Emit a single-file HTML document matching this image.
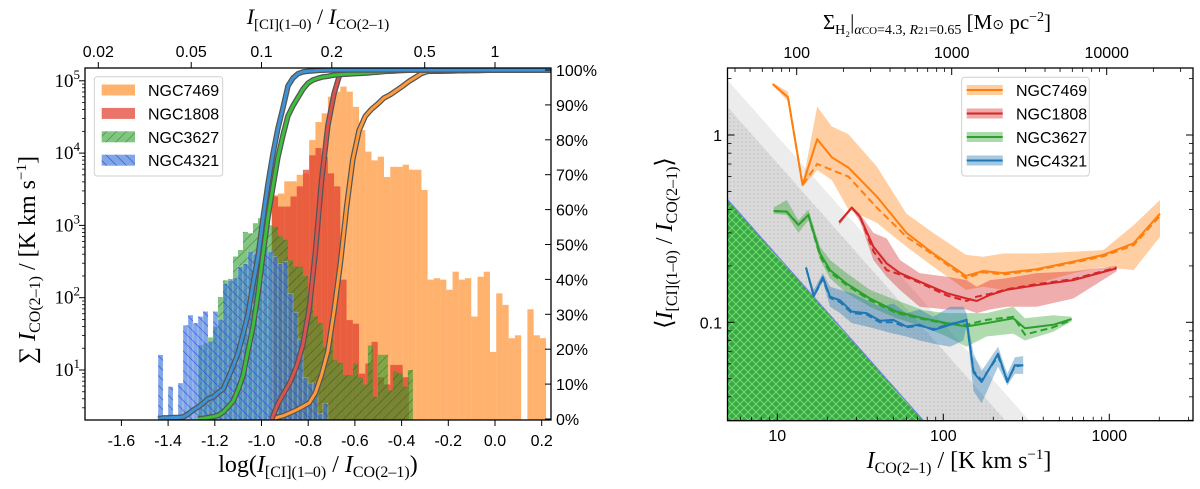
<!DOCTYPE html>
<html><head><meta charset="utf-8"><style>
html,body{margin:0;padding:0;background:#fff;}
svg{display:block;}
</style></head><body>
<svg id="fig" width="1200" height="489" viewBox="0 0 1200 489" xmlns="http://www.w3.org/2000/svg">
<defs>
<pattern id="hatchG" width="7" height="7" patternUnits="userSpaceOnUse" patternTransform="rotate(45)"><line x1="0" y1="0" x2="0" y2="7" stroke="#1e3d10" stroke-opacity="0.55" stroke-width="1.2"/></pattern>
<pattern id="hatchB" width="7" height="7" patternUnits="userSpaceOnUse" patternTransform="rotate(-45)"><line x1="0" y1="0" x2="0" y2="7" stroke="#2a2ff0" stroke-opacity="0.8" stroke-width="1.3"/></pattern>
<pattern id="crossG" width="8" height="8" patternUnits="userSpaceOnUse"><rect width="8" height="8" fill="#3aa845"/><path d="M0,0 L8,8 M8,0 L0,8" stroke="#6fdc6f" stroke-width="1"/></pattern>
<pattern id="dotsGray" width="4" height="4" patternUnits="userSpaceOnUse"><rect width="4" height="4" fill="#dadada"/><circle cx="2" cy="2" r="0.7" fill="#bcbcbc"/></pattern>
<clipPath id="clipL"><rect x="85" y="68" width="466" height="352"/></clipPath>
<clipPath id="clipR"><rect x="727.5" y="68" width="465.5" height="352.7"/></clipPath>
</defs>
<g id="leftPlot"></g>
<g id="rightPlot"></g>

<text x="318" y="472" text-anchor="middle" font-family="Liberation Serif, serif" font-size="24">log(<tspan font-style="italic">I</tspan><tspan dy="5" font-size="16">[CI](1–0)</tspan><tspan dy="-5"> / </tspan><tspan font-style="italic">I</tspan><tspan dy="5" font-size="16">CO(2–1)</tspan><tspan dy="-5">)</tspan></text>
<text x="318" y="24" text-anchor="middle" font-family="Liberation Serif, serif" font-size="22"><tspan font-style="italic">I</tspan><tspan dy="5" font-size="15">[CI](1–0)</tspan><tspan dy="-5"> / </tspan><tspan font-style="italic">I</tspan><tspan dy="5" font-size="15">CO(2–1)</tspan></text>
<text transform="translate(35,260) rotate(-90)" text-anchor="middle" font-family="Liberation Serif, serif" font-size="24">∑ <tspan font-style="italic">I</tspan><tspan dy="5" font-size="16">CO(2–1)</tspan><tspan dy="-5"> / [K km s</tspan><tspan dy="-9" font-size="15">−1</tspan><tspan dy="9">]</tspan></text>
<text x="959" y="468" text-anchor="middle" font-family="Liberation Serif, serif" font-size="24"><tspan font-style="italic">I</tspan><tspan dy="5" font-size="16">CO(2–1)</tspan><tspan dy="-5"> / [K km s</tspan><tspan dy="-9" font-size="15">−1</tspan><tspan dy="9">]</tspan></text>
<text x="937" y="29" text-anchor="middle" font-family="Liberation Serif, serif" font-size="21">Σ<tspan dy="5" font-size="14">H₂</tspan><tspan dy="-5">|</tspan><tspan dy="5" font-size="14" font-style="italic">α</tspan><tspan font-size="11">CO</tspan><tspan font-size="14">=4.3, </tspan><tspan font-size="14" font-style="italic">R</tspan><tspan font-size="11">21</tspan><tspan font-size="14">=0.65</tspan><tspan dy="-5">  [M</tspan><tspan font-size="14">⊙</tspan><tspan> pc</tspan><tspan dy="-8" font-size="14">−2</tspan><tspan dy="8">]</tspan></text>
<text transform="translate(672,243) rotate(-90)" text-anchor="middle" font-family="Liberation Serif, serif" font-size="24">⟨<tspan font-style="italic">I</tspan><tspan dy="5" font-size="16">[CI](1–0)</tspan><tspan dy="-5"> / </tspan><tspan font-style="italic">I</tspan><tspan dy="5" font-size="16">CO(2–1)</tspan><tspan dy="-5">⟩</tspan></text>
</svg>
<script>
// ---------------- LEFT PANEL DATA ----------------
const histNames = ['NGC7469','NGC1808','NGC3627','NGC4321'];
const histStarts = [-0.956, -0.956, -1.272, -1.443];
const histWidths = [0.0267, 0.0267, 0.0214, 0.0214];
const logCounts7469 = [3.42,3.44,3.61,3.61,3.70,3.72,4.18,4.43,4.55,4.78,4.85,4.92,4.85,4.64,4.32,4.02,3.90,3.95,3.67,3.81,3.81,3.84,3.77,3.77,3.49,2.25,2.27,2.25,2.11,2.36,2.25,2.27,1.74,2.29,2.36,1.25,2.06,1.90,1.44,1.48,0,1.84,1.48,1.44];
const logCounts1808 = [3.40,3.26,3.26,3.40,3.54,3.77,3.97,4.07,3.95,3.72,3.54,2.25,1.69,1.64,0.95,1.09,1.39,0.9,0.8,1.07,1.07,0.9];
const logCounts3627 = [1.34,1.37,1.45,1.60,2.01,2.24,2.26,2.57,2.66,2.91,2.89,3.03,3.10,3.08,3.00,2.98,2.85,2.80,2.52,2.43,2.43,2.30,2.01,1.74,1.65,1.32,1.55,1.14,1.10,0.93,0.93,1.09,0.90,0.80,1.34,0.63,1.21,1.21,0.72,0.98,0.95,0.77,1.0];
const logCounts4321 = [1.21,0,0.77,0,0.82,1.62,1.76,1.65,1.74,1.81,1.40,1.81,1.70,2.20,2.24,2.28,2.43,2.47,2.64,2.60,2.75,2.70,2.64,2.57,2.47,2.50,2.06,1.80,1.42,0.9,0.82,0.82,0.4,0.54];
const xTicksLeft = [-1.6,-1.4,-1.2,-1.0,-0.8,-0.6,-0.4,-0.2,0.0,0.2];
const xTickLabelsLeft = ['-1.6','-1.4','-1.2','-1.0','-0.8','-0.6','-0.4','-0.2','0.0','0.2'];
const topTicksLeft = [0.02,0.05,0.1,0.2,0.5,1];
const topTickLabelsLeft = ['0.02','0.05','0.1','0.2','0.5','1'];
const yDecadesLeft = [1,2,3,4,5];
const pctTicks = [0,10,20,30,40,50,60,70,80,90,100];

// ---------------- RIGHT PANEL DATA ----------------
const I7469 = [9.4,11.6,14.2,17.4,21.3,26.8,39.7,60,87,137,174,230,365,607,920,1400,2020];
const mean7469 = [1.87,1.59,0.54,0.95,0.76,0.67,0.47,0.30,0.233,0.177,0.188,0.183,0.192,0.211,0.229,0.264,0.38];
const med7469 = [1.87,1.59,0.54,0.70,0.65,0.60,0.41,0.286,0.229,0.172,0.185,0.180,0.190,0.208,0.225,0.258,0.37];
const hi7469 = [1.90,1.70,0.55,1.42,1.11,1.01,0.68,0.38,0.30,0.229,0.224,0.233,0.233,0.238,0.243,0.33,0.45];
const lo7469 = [1.84,1.51,0.53,0.65,0.575,0.40,0.34,0.253,0.198,0.149,0.155,0.149,0.161,0.183,0.198,0.190,0.286];

const I1808 = [23.6,28.1,31.5,37.9,45.6,54.8,72,105,138,159,191,240,365,607,1107];
const mean1808 = [0.342,0.41,0.366,0.253,0.206,0.183,0.165,0.143,0.134,0.130,0.140,0.149,0.158,0.168,0.194];
const med1808 = [0.342,0.41,0.366,0.240,0.190,0.180,0.163,0.139,0.130,0.137,0.142,0.150,0.160,0.170,0.196];
const hi1808 = [0.35,0.415,0.38,0.30,0.28,0.215,0.183,0.175,0.168,0.155,0.168,0.172,0.183,0.187,0.20];
const lo1808 = [0.33,0.40,0.345,0.215,0.175,0.149,0.121,0.117,0.117,0.112,0.117,0.121,0.121,0.134,0.187];

const I3627 = [9.5,11.4,13.4,15.4,18.1,20.8,26.2,36.2,52.3,75.8,105,138,182,264,310,460,593];
const mean3627 = [0.393,0.39,0.331,0.374,0.233,0.190,0.161,0.134,0.114,0.105,0.099,0.095,0.099,0.105,0.093,0.097,0.104];
const med3627 = [0.393,0.39,0.331,0.374,0.225,0.185,0.158,0.131,0.112,0.104,0.098,0.097,0.103,0.107,0.086,0.094,0.103];
const hi3627 = [0.41,0.45,0.35,0.40,0.253,0.215,0.183,0.149,0.131,0.116,0.112,0.112,0.112,0.121,0.105,0.109,0.107];
const lo3627 = [0.38,0.374,0.30,0.35,0.215,0.172,0.143,0.121,0.105,0.095,0.084,0.074,0.084,0.087,0.080,0.089,0.101];

const I4321 = [14.9,16.6,18.8,20.8,23.9,28.1,34.5,41.5,50,60,72,87,110,132,138,152,170,214,243,270,303];
const mean4321 = [0.196,0.138,0.174,0.137,0.131,0.114,0.112,0.102,0.103,0.095,0.097,0.091,0.097,0.102,0.103,0.054,0.048,0.068,0.048,0.059,0.059];
const med4321 = [0.196,0.138,0.170,0.135,0.128,0.112,0.110,0.100,0.100,0.094,0.096,0.092,0.098,0.101,0.103,0.055,0.049,0.066,0.049,0.058,0.059];
const hi4321 = [0.203,0.149,0.183,0.155,0.149,0.143,0.131,0.121,0.126,0.112,0.117,0.107,0.121,0.121,0.112,0.068,0.055,0.074,0.053,0.065,0.066];
const lo4321 = [0.190,0.134,0.165,0.121,0.112,0.099,0.095,0.091,0.087,0.084,0.080,0.077,0.074,0.080,0.095,0.043,0.037,0.058,0.046,0.053,0.053];

const limitCoeffs = [9.84, 7.08, 2.27]; // ratio = C / I_CO boundaries (light band, dotted band, hatched region)
const xTicksRight = [10,100,1000];
const xTickLabelsRight = ['10','100','1000'];
const topTicksRight = [100,1000,10000];
const topTickLabelsRight = ['100','1000','10000'];
const yTicksRight = [0.1,1];
const yTickLabelsRight = ['0.1','1'];

// ---------------- helpers ----------------
const NS = 'http://www.w3.org/2000/svg';
function mk(parent, tag, attrs){
  const e = document.createElementNS(NS, tag);
  for (const k in attrs) e.setAttribute(k, attrs[k]);
  parent.appendChild(e);
  return e;
}
const FONT = 'Liberation Sans, sans-serif';

// scales
const xL = v => 495 + v*233.5;
const yL = lc => 370 - (lc-1)*72.3;
const yP = p => 419 - p*3.49;
const LBOT = 420, LTOP = 68, LLEFT = 85, LRIGHT = 551;
const xR = I => 943.3 + (Math.log10(I)-2)*166;
const yR = r => 322.3 - (Math.log10(r)+1)*187.3;
const xT = S => 796.7 + (Math.log10(S)-2)*155;
const RBOT = 420.7, RTOP = 68, RLEFT = 727.5, RRIGHT = 1193;

// ================= LEFT PANEL =================
const L = document.getElementById('leftPlot');
const Lc = mk(L,'g',{'clip-path':'url(#clipL)'});



const histData = [logCounts7469, logCounts1808, logCounts3627, logCounts4321];
const histFill = ['#ff7f0e','#e03a2a','#2ca02c','#3b78d8'];
const histOpacity = [0.6, 0.7, 0.6, 0.65];
const histHatch = [null, null, 'url(#hatchG)', 'url(#hatchB)'];
const histKeys = ['ngc7469','ngc1808','ngc3627','ngc4321'];

histData.forEach((arr, g) => {
  const grp = mk(Lc,'g',{});
  
  
  arr.forEach((v, i) => {
    if (v <= 0) return;
    const x0 = xL(histStarts[g] + i*histWidths[g]);
    const x1 = xL(histStarts[g] + (i+1)*histWidths[g]);
    const y = yL(v);
    const r = mk(grp,'rect',{x:x0, y:y, width:x1-x0, height:LBOT-y, fill:histFill[g], 'fill-opacity':histOpacity[g], stroke: g===3?'#ffffff':'none', 'stroke-width':0.4, 'stroke-opacity':0.6});
    
    
    if (histHatch[g]) {
      const h = mk(grp,'rect',{x:x0, y:y, width:x1-x0, height:LBOT-y, fill:histHatch[g]});
      
      
    }
  });
});

// cumulative curves
const cumColor = ['#ff9a3c','#d9534f','#3cc03c','#3d93d6'];
[0,1,2,3].forEach(g => {
  const arr = histData[g];
  const lin = arr.map(v => v>0 ? Math.pow(10,v) : 0);
  const tot = lin.reduce((a,b)=>a+b,0);
  let cum = 0;
  const pts = [[xL(histStarts[g]), yP(0)]];
  lin.forEach((c,i) => {
    cum += c;
    pts.push([xL(histStarts[g]+(i+1)*histWidths[g]), yP(100*cum/tot)]);
  });
  pts.push([LRIGHT+2, yP(100)]);
  const d = pts.map(p=>p[0].toFixed(1)+','+p[1].toFixed(1)).join(' ');
  const o = mk(Lc,'polyline',{points:d, fill:'none', stroke:'#555', 'stroke-width':5.5, 'stroke-linejoin':'round'});
  
  
  const c = mk(Lc,'polyline',{points:d, fill:'none', stroke:cumColor[g], 'stroke-width':3, 'stroke-linejoin':'round'});
  
  
});

// left frame
const lf = mk(L,'rect',{x:LLEFT, y:LTOP, width:LRIGHT-LLEFT, height:LBOT-LTOP, fill:'none', stroke:'#000', 'stroke-width':1.3});



// bottom ticks
xTicksLeft.forEach((v,i) => {
  const x = xL(v);
  const t = mk(L,'line',{x1:x, x2:x, y1:LBOT, y2:LBOT+6, stroke:'#000', 'stroke-width':1});
  
  
  const tx = mk(L,'text',{x:x, y:446, 'text-anchor':'middle', 'font-family':FONT, 'font-size':16});
  tx.textContent = xTickLabelsLeft[i];
  
  
});
// top ticks
topTicksLeft.forEach((v,i) => {
  const x = xL(Math.log10(v));
  const t = mk(L,'line',{x1:x, x2:x, y1:LTOP, y2:LTOP-6, stroke:'#000', 'stroke-width':1});
  
  
  const tx = mk(L,'text',{x:x, y:57, 'text-anchor':'middle', 'font-family':FONT, 'font-size':16});
  tx.textContent = topTickLabelsLeft[i];
  
  
});
// left y ticks (log)
for (let k=0;k<=5;k++){
  for (let m=1;m<=9;m++){
    const lc = k + Math.log10(m);
    const y = yL(lc);
    if (y < LTOP || y > LBOT) continue;
    const t = mk(L,'line',{x1:LLEFT, x2:LLEFT-(m===1?6:3), y1:y, y2:y, stroke:'#000', 'stroke-width':m===1?1:0.8});
    
    
  }
}
yDecadesLeft.forEach(k => {
  const tx = mk(L,'text',{x:80, y:yL(k)+6, 'text-anchor':'end', 'font-family':'Liberation Serif, serif', 'font-size':19});
  
  
  tx.appendChild(document.createTextNode('10'));
  const s = mk(tx,'tspan',{dy:-8, 'font-size':13});
  s.textContent = String(k);
});
// right percent axis
pctTicks.forEach(p => {
  const y = yP(p);
  const t = mk(L,'line',{x1:LRIGHT, x2:LRIGHT-6, y1:y, y2:y, stroke:'#000', 'stroke-width':1});
  
  
  const tx = mk(L,'text',{x:556, y:y+6, 'font-family':FONT, 'font-size':16});
  tx.textContent = p+'%';
  
  
});
// left legend
const lg = mk(L,'g',{});


const lgb = mk(lg,'rect',{x:94.3, y:76.7, width:128.4, height:99.3, rx:3, fill:'#fff', 'fill-opacity':0.85, stroke:'#d0d0d0', 'stroke-width':1});


histNames.forEach((n,g) => {
  const cy = 90 + g*23.4;
  const p = mk(lg,'rect',{x:101.7, y:cy-5.5, width:33.3, height:11, fill:histFill[g], 'fill-opacity':histOpacity[g]});
  
  
  if (histHatch[g]) {
    const h = mk(lg,'rect',{x:101.7, y:cy-5.5, width:33.3, height:11, fill:histHatch[g]});
    
    
  }
  const t = mk(lg,'text',{x:148, y:cy+6, 'font-family':FONT, 'font-size':16});
  t.textContent = n;
  
  
});

// ================= RIGHT PANEL =================
const R = document.getElementById('rightPlot');
const Rc = mk(R,'g',{'clip-path':'url(#clipR)'});



const Imin = 4.9, Imax = 4000;
const limFills = ['#ececec','url(#dotsGray)','url(#crossG)'];
const limNames = ['light-limit-band','dotted-limit-band','hatched-limit-region'];
limitCoeffs.forEach((C,i) => {
  const pts = [[xR(Imin), yR(C/Imin)], [xR(C/0.025), yR(0.025)], [xR(Imin), yR(0.025)]];
  const p = mk(Rc,'polygon',{points:pts.map(q=>q.join(',')).join(' '), fill:limFills[i]});
  
  
  if (i===2) {
    const l = mk(Rc,'line',{x1:pts[0][0], y1:pts[0][1], x2:pts[1][0], y2:pts[1][1], stroke:'#7b7bf0', 'stroke-width':1});
    
    
  }
});

const series = [
  {key:'ngc7469', name:'NGC7469', col:'#ff7f0e', I:I7469, m:mean7469, d:med7469, hi:hi7469, lo:lo7469},
  {key:'ngc1808', name:'NGC1808', col:'#d62728', I:I1808, m:mean1808, d:med1808, hi:hi1808, lo:lo1808},
  {key:'ngc3627', name:'NGC3627', col:'#2ca02c', I:I3627, m:mean3627, d:med3627, hi:hi3627, lo:lo3627},
  {key:'ngc4321', name:'NGC4321', col:'#1f77b4', I:I4321, m:mean4321, d:med4321, hi:hi4321, lo:lo4321}
];
series.forEach(s => {
  const up = s.I.map((I,i)=>xR(I).toFixed(1)+','+yR(s.hi[i]).toFixed(1));
  const dn = s.I.map((I,i)=>xR(I).toFixed(1)+','+yR(s.lo[i]).toFixed(1)).reverse();
  const b = mk(Rc,'polygon',{points:up.concat(dn).join(' '), fill:s.col, 'fill-opacity':0.38});
  
  
});
series.forEach(s => {
  const ln = mk(Rc,'polyline',{points:s.I.map((I,i)=>xR(I).toFixed(1)+','+yR(s.m[i]).toFixed(1)).join(' '), fill:'none', stroke:s.col, 'stroke-width':2, 'stroke-linejoin':'round'});
  
  
  const dl = mk(Rc,'polyline',{points:s.I.map((I,i)=>xR(I).toFixed(1)+','+yR(s.d[i]).toFixed(1)).join(' '), fill:'none', stroke:s.col, 'stroke-width':2, 'stroke-dasharray':'7,4'});
  
  
});

const rf = mk(R,'rect',{x:RLEFT, y:RTOP, width:RRIGHT-RLEFT, height:RBOT-RTOP, fill:'none', stroke:'#000', 'stroke-width':1.3});



// bottom ticks (inward) and top ticks
for (let k=0;k<=4;k++){
  for (let m=1;m<=9;m++){
    const v = m*Math.pow(10,k);
    const x = xR(v);
    if (x > RLEFT && x < RRIGHT) {
      const t = mk(R,'line',{x1:x, x2:x, y1:RBOT, y2:RBOT-(m===1?7:4), stroke:'#000', 'stroke-width':m===1?1:0.8});
      
      
    }
    const v2 = m*Math.pow(10,k+1);
    const x2 = xT(v2);
    if (x2 > RLEFT && x2 < RRIGHT) {
      const t2 = mk(R,'line',{x1:x2, x2:x2, y1:RTOP, y2:RTOP+(m===1?7:4), stroke:'#000', 'stroke-width':m===1?1:0.8});
      
      
    }
  }
}
xTicksRight.forEach((v,i) => {
  const tx = mk(R,'text',{x:xR(v), y:441, 'text-anchor':'middle', 'font-family':FONT, 'font-size':16});
  tx.textContent = xTickLabelsRight[i];
  
  
});
topTicksRight.forEach((v,i) => {
  const tx = mk(R,'text',{x:xT(v), y:58, 'text-anchor':'middle', 'font-family':FONT, 'font-size':16});
  tx.textContent = topTickLabelsRight[i];
  
  
});
// y ticks both sides
for (let k=-2;k<=0;k++){
  for (let m=1;m<=9;m++){
    const v = m*Math.pow(10,k);
    const y = yR(v);
    if (y < RTOP || y > RBOT) continue;
    const len = m===1?7:4;
    const t = mk(R,'line',{x1:RLEFT, x2:RLEFT+len, y1:y, y2:y, stroke:'#000', 'stroke-width':m===1?1:0.8});
    
    
    const t2 = mk(R,'line',{x1:RRIGHT, x2:RRIGHT-len, y1:y, y2:y, stroke:'#000', 'stroke-width':m===1?1:0.8});
    
    
  }
}
yTicksRight.forEach((v,i) => {
  const tx = mk(R,'text',{x:722, y:yR(v)+6, 'text-anchor':'end', 'font-family':FONT, 'font-size':16});
  tx.textContent = yTickLabelsRight[i];
  
  
});
// right legend
const rg = mk(R,'g',{});


const rgb = mk(rg,'rect',{x:961.7, y:77.3, width:127.6, height:98.7, rx:3, fill:'#fff', 'fill-opacity':0.85, stroke:'#d0d0d0', 'stroke-width':1});


series.forEach((s,g) => {
  const cy = 90 + g*23.5;
  const p = mk(rg,'rect',{x:966.7, y:cy-5, width:36, height:10, fill:s.col, 'fill-opacity':0.4});
  
  
  const l = mk(rg,'line',{x1:966.7, x2:1002.7, y1:cy, y2:cy, stroke:s.col, 'stroke-width':2});
  
  
  const t = mk(rg,'text',{x:1016, y:cy+6, 'font-family':FONT, 'font-size':16});
  t.textContent = s.name;
  
  
});
</script>
</body></html>
